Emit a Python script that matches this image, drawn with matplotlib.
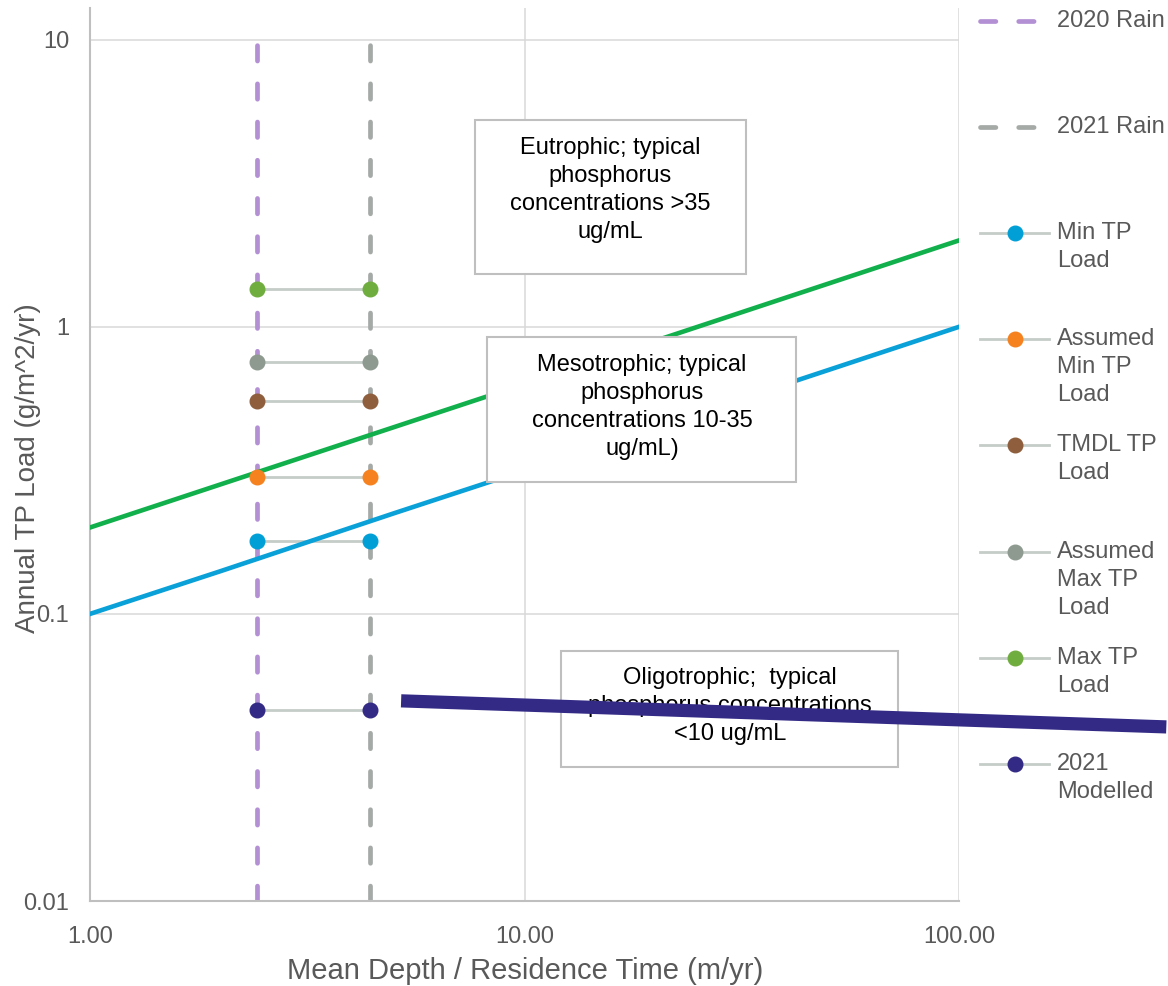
import matplotlib
matplotlib.use("Agg")
import matplotlib.pyplot as plt
from matplotlib.lines import Line2D
from matplotlib.patches import Rectangle
from matplotlib.ticker import NullLocator

# --- CONFIG ---
W, H = 1168, 986
OUT_FILE = "out.png"
TXT_GREY = "#595959"
plt.rcParams['font.family'] = ['Liberation Sans', 'DejaVu Sans']

# --- DATA ---
rain_labels = ["2020 Rain", "2021 Rain"]
rain_depth = [2.42, 4.40]          # mean depth / residence time (m/yr)
rain_colors = ["#B390D3", "#A5AAA7"]

load_labels = ["Min TP\nLoad", "Assumed\nMin TP\nLoad", "TMDL TP\nLoad",
               "Assumed\nMax TP\nLoad", "Max TP\nLoad", "2021\nModelled"]
load_values = [0.179, 0.30, 0.552, 0.755, 1.35, 0.0464]   # g/m^2/yr
load_colors = ["#00A0D6", "#F5821F", "#8E5E3D", "#8E9A90", "#70AD3F", "#332A86"]

# trophic boundaries (Vollenweider)
perm_x = [1, 2, 5, 10, 20, 50, 100]
perm_y = [0.1, 0.141, 0.224, 0.316, 0.447, 0.707, 1.0]
danger_x = [1, 10, 100]
danger_y = [0.2, 0.632, 2.0]

modelled_x = [5.2, 300]
modelled_y = [0.0498, 0.0404]

x_ticks = [1, 10, 100]
x_tick_labels = ["1.00", "10.00", "100.00"]
y_ticks = [0.01, 0.1, 1, 10]
y_tick_labels = ["0.01", "0.1", "1", "10"]

zones = [
    ("Eutrophic; typical\nphosphorus\nconcentrations >35\nug/mL", (475, 120, 746, 274), (610, 190)),
    ("Mesotrophic; typical\nphosphorus\nconcentrations 10-35\nug/mL)", (487, 337, 796, 482), (642, 407)),
    ("Oligotrophic;  typical\nphosphorus concentrations\n<10 ug/mL", (561, 651, 898, 767), (730, 706)),
]

CONNECT = "#C5CDC9"
DASHES = (3.26, 4.83)


def fx(px):
    return px / W


def fy(py):
    return 1 - py / H


fig = plt.figure(figsize=(W / 100, H / 100), dpi=100)
AX_L, AX_T, AX_R, AX_B = 90, 8, 959, 901
ax = fig.add_axes([fx(AX_L), fy(AX_B), (AX_R - AX_L) / W, (AX_B - AX_T) / H])
ax.set_xscale("log")
ax.set_yscale("log")

# rain lines
for xv, c in zip(rain_depth, rain_colors):
    ax.plot([xv, xv], [0.01, 10], color=c, lw=3.4, dashes=DASHES,
            dash_capstyle="round", zorder=2)

# connectors + markers
for val, c in zip(load_values, load_colors):
    ax.plot(rain_depth, [val, val], color=CONNECT, lw=2, zorder=3)
    ax.plot(rain_depth, [val, val], ls="none", marker="o", ms=10.5,
            color=c, zorder=8)

ax.plot(danger_x, danger_y, color="#12B04C", lw=3.3, zorder=4)
ax.plot(perm_x, perm_y, color="#0AA0D8", lw=3.3, zorder=4)
ax.plot(modelled_x, modelled_y, color="#332A86", lw=9.5,
        solid_capstyle="butt", zorder=7, clip_on=False)

# zone boxes
ax_w, ax_h = AX_R - AX_L, AX_B - AX_T
for txt, (x0, y0, x1, y1), (cx, cy) in zones:
    ax.add_patch(Rectangle(((x0 - AX_L) / ax_w, (AX_B - y1) / ax_h),
                           (x1 - x0) / ax_w, (y1 - y0) / ax_h,
                           transform=ax.transAxes, facecolor="white",
                           edgecolor="#BFBFBF", lw=1.5, zorder=5))
    ax.text((cx - AX_L) / ax_w, (AX_B - cy) / ax_h, txt, transform=ax.transAxes,
            ha="center", va="center", multialignment="center", fontsize=17,
            color="black", linespacing=1.36, zorder=6)

ax.set_xlim(1, 100)
ax.set_ylim(0.01, 12.9)
ax.set_xticks(x_ticks, labels=x_tick_labels)
ax.set_yticks(y_ticks, labels=y_tick_labels)
ax.xaxis.set_minor_locator(NullLocator())
ax.yaxis.set_minor_locator(NullLocator())
ax.tick_params(axis="both", length=0, labelsize=17, colors=TXT_GREY)
ax.tick_params(axis="y", pad=15)
ax.tick_params(axis="x", pad=18)
ax.grid(True, color="#D9D9D9", lw=1.1, zorder=0)
ax.set_axisbelow(True)
for s in ["top", "right"]:
    ax.spines[s].set_visible(False)
for s in ["left", "bottom"]:
    ax.spines[s].set_color("#BFBFBF")
    ax.spines[s].set_linewidth(1.5)

fig.text(fx(525), fy(971), "Mean Depth / Residence Time (m/yr)", ha="center",
         va="center", fontsize=21, color=TXT_GREY)
fig.text(fx(28), fy(468), "Annual TP Load (g/m^2/yr)", ha="center", va="center",
         rotation=90, fontsize=20, color=TXT_GREY)

# --- LEGEND (drawn by hand, Excel style spacing) ---
LEG_X0, LEG_X1, LEG_MK, LEG_TX = 980, 1049, 1015, 1057
leg_y = [21 + 106.1 * i for i in range(len(rain_labels) + len(load_labels))]
LINE_H = 28

for i, (lab, c) in enumerate(zip(rain_labels, rain_colors)):
    y = leg_y[i]
    fig.add_artist(Line2D([fx(LEG_X0), fx(LEG_X1)], [fy(y), fy(y)], color=c,
                          lw=3.4, dashes=DASHES, dash_capstyle="round"))
    fig.text(fx(LEG_TX), fy(y), lab, ha="left", va="center", fontsize=17,
             color=TXT_GREY)

for j, (lab, c) in enumerate(zip(load_labels, load_colors)):
    y = leg_y[j + len(rain_labels)]
    fig.add_artist(Line2D([fx(LEG_X0), fx(LEG_X1)], [fy(y), fy(y)],
                          color=CONNECT, lw=2))
    fig.add_artist(Line2D([fx(LEG_MK)], [fy(y)], ls="none", marker="o",
                          ms=10.5, color=c))
    for k, part in enumerate(lab.split("\n")):
        fig.text(fx(LEG_TX), fy(y + k * LINE_H), part, ha="left", va="center",
                 fontsize=17, color=TXT_GREY)

fig.savefig(OUT_FILE, dpi=100)
